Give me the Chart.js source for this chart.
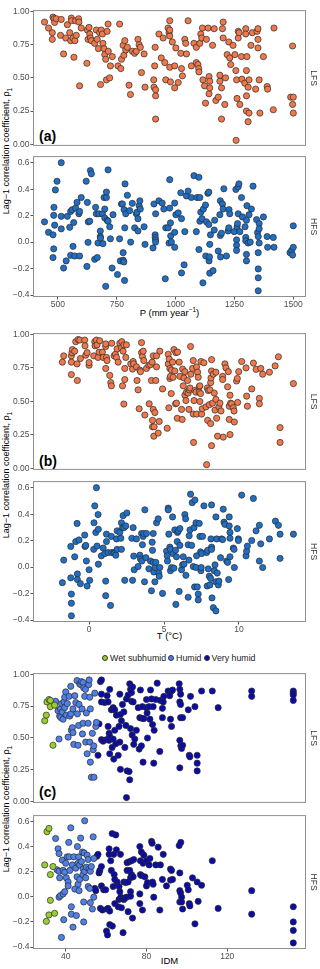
<!DOCTYPE html>
<html>
<head>
<meta charset="utf-8">
<script src="https://cdn.jsdelivr.net/npm/chart.js@4.4.1/dist/chart.umd.min.js"></script>
<style>
    body { margin: 0; background: #fff; width: 320px; height: 969px; position: relative; overflow: hidden;
           font-family: "Liberation Sans", Arial, sans-serif; }
    canvas { position: absolute; left: 0; }
    .ytitle { position: absolute; left: 8px; width: 300px; text-align: center; font-size: 9px; line-height: 10px;
              color: #000; white-space: nowrap; transform: translate(-50%, -50%) rotate(-90deg); }
    .xtitle { position: absolute; left: 33px; width: 273px; text-align: center; font-size: 9.5px; color: #000; }
    .xtitle sup { font-size: 6.5px; }
    .tag { position: absolute; left: 39px; font-weight: bold; font-size: 14px; color: #000; }
    .legend { position: absolute; top: 653px; left: 100px; font-size: 8.8px; color: #1a1a1a; white-space: nowrap; }
    .legend i { display: inline-block; width: 4px; height: 4px; border-radius: 50%; border: 0.6px solid #333;
                margin: 0 2px 1px 2px; vertical-align: middle; }
</style>
</head>
<body>

<div class="ytitle" style="top:151px">Lag−1 correlation coefficient, ρ<sub style="font-size:6.5px">1</sub></div>
<div class="ytitle" style="top:475px">Lag−1 correlation coefficient, ρ<sub style="font-size:6.5px">1</sub></div>
<div class="ytitle" style="top:809px">Lag−1 correlation coefficient, ρ<sub style="font-size:6.5px">1</sub></div>

<div class="xtitle" style="top:306px">P (mm year<sup>−1</sup>)</div>
<div class="xtitle" style="top:630px">T (°C)</div>
<div class="xtitle" style="top:955px">IDM</div>

<div class="tag" style="top:128px">(a)</div>
<div class="tag" style="top:453px">(b)</div>
<div class="tag" style="top:784px">(c)</div>

<div class="legend"><i style="background:#9acd32"></i>Wet subhumid<i style="background:#4f7fe8"></i>Humid<i style="background:#0b0ba6"></i>Very humid</div>

<canvas id="aL"></canvas>
<canvas id="aH"></canvas>
<canvas id="bL"></canvas>
<canvas id="bH"></canvas>
<canvas id="cL"></canvas>
<canvas id="cH"></canvas>

<script>
// tick values
const lfsTicks = [0, 0.25, 0.5, 0.75, 1];
const hfsTicks = [-0.4, -0.2, 0, 0.2, 0.4, 0.6];
const pTicks = [500, 750, 1000, 1250, 1500];
const tTicks = [0, 5, 10];
const idmTicks = [40, 80, 120];

// (a) precipitation vs rho1
const aLfs = [[443,0.92],[460,0.875],[476,0.84],[476,0.79],[479,0.957],[483,0.945],[486,0.917],[493,0.945],[514,0.94],[511,0.82],[524,0.68],[533,0.80],[540,0.90],[550,0.84],[554,0.78],[557,0.95],[558,0.93],[564,0.80],[568,0.655],[572,0.78],[575,0.93],[578,0.82],[588,0.945],[589,0.92],[592,0.44],[599,0.875],[623,0.61],[625,0.86],[628,0.79],[632,0.88],[635,0.83],[638,0.80],[642,0.78],[656,0.76],[663,0.86],[667,0.79],[672,0.72],[677,0.84],[681,0.45],[684,0.86],[689,0.83],[691,0.76],[696,0.72],[699,0.675],[703,0.64],[706,0.485],[709,0.85],[713,0.905],[714,0.70],[720,0.50],[723,0.59],[731,0.66],[755,0.59],[762,0.905],[767,0.57],[770,0.64],[777,0.745],[780,0.67],[784,0.78],[788,0.71],[795,0.73],[802,0.445],[808,0.375],[816,0.70],[826,0.685],[833,0.70],[840,0.79],[845,0.75],[850,0.73],[855,0.54],[866,0.68],[870,0.43],[907,0.485],[908,0.43],[911,0.59],[913,0.73],[915,0.365],[915,0.41],[915,0.19],[929,0.83],[939,0.65],[947,0.80],[954,0.615],[958,0.485],[968,0.875],[972,0.84],[975,0.815],[975,0.93],[975,0.86],[975,0.58],[978,0.47],[986,0.77],[996,0.425],[996,0.59],[1001,0.725],[1011,0.465],[1022,0.685],[1025,0.57],[1029,0.515],[1039,0.79],[1043,0.76],[1046,0.68],[1053,0.93],[1067,0.59],[1078,0.76],[1088,0.73],[1088,0.615],[1095,0.60],[1098,0.57],[1099,0.545],[1103,0.76],[1107,0.83],[1111,0.80],[1114,0.875],[1116,0.485],[1123,0.44],[1127,0.31],[1131,0.79],[1138,0.875],[1142,0.51],[1142,0.38],[1145,0.425],[1145,0.475],[1157,0.745],[1164,0.87],[1171,0.33],[1181,0.355],[1188,0.475],[1188,0.52],[1195,0.425],[1195,0.19],[1199,0.87],[1202,0.80],[1202,0.92],[1209,0.30],[1212,0.50],[1219,0.675],[1226,0.77],[1230,0.65],[1234,0.60],[1244,0.745],[1252,0.675],[1256,0.555],[1257,0.03],[1259,0.485],[1261,0.345],[1266,0.85],[1266,0.80],[1270,0.84],[1273,0.30],[1280,0.66],[1282,0.49],[1294,0.46],[1298,0.87],[1298,0.83],[1301,0.555],[1301,0.365],[1301,0.25],[1303,0.66],[1308,0.17],[1308,0.43],[1312,0.485],[1312,0.235],[1320,0.745],[1326,0.84],[1340,0.415],[1346,0.85],[1350,0.87],[1350,0.79],[1350,0.725],[1355,0.485],[1358,0.235],[1373,0.66],[1389,0.435],[1391,0.415],[1415,0.26],[1418,0.875],[1489,0.355],[1497,0.74],[1497,0.30],[1500,0.355],[1500,0.235]];

const aHfs = [[443,0.153],[460,0.074],[479,0.055],[479,-0.117],[482,0.202],[482,-0.051],[483,0.263],[486,0.128],[489,0.394],[496,0.46],[514,0.6],[514,0.195],[514,0.1],[524,-0.196],[535,-0.142],[540,0.195],[550,0.112],[554,0.232],[554,-0.1],[561,0.245],[564,-0.032],[567,0.148],[571,-0.105],[575,0.257],[581,0.30],[589,0.214],[592,0.232],[592,-0.105],[599,0.337],[620,0.46],[623,-0.184],[625,0.30],[628,-0.002],[629,0.153],[635,0.158],[638,0.541],[642,0.516],[656,-0.13],[660,0.263],[663,0.214],[667,-0.117],[670,-0.007],[674,0.214],[680,0.084],[680,0.042],[681,0.03],[689,0.214],[691,-0.012],[696,0.337],[699,0.25],[699,0.182],[703,-0.334],[706,0.337],[706,0.378],[709,0.165],[713,0.158],[713,0.546],[720,0.116],[723,0.025],[730,-0.196],[734,0.207],[753,-0.245],[762,0.025],[765,-0.142],[770,0.288],[774,0.288],[777,-0.08],[777,-0.137],[780,-0.15],[781,0.245],[783,-0.29],[784,0.108],[785,0.44],[788,0.214],[795,0.354],[805,0.238],[809,0],[816,0.293],[826,0.108],[833,0.214],[836,0.226],[840,0.084],[840,0.177],[845,0.275],[848,0.312],[850,0.25],[866,0.116],[870,-0.017],[904,-0.044],[908,0.288],[913,0.055],[913,0.035],[915,0.017],[915,0],[915,0.214],[929,0.312],[943,0.295],[950,0.25],[956,-0.277],[958,0.108],[968,0.108],[972,-0.007],[975,0.472],[975,0.257],[978,0.145],[979,0.047],[982,0],[996,0.295],[996,0.074],[996,-0.039],[1001,0.207],[1011,0.221],[1022,0.373],[1025,0.177],[1025,-0.233],[1036,-0.172],[1039,0.079],[1046,0.349],[1053,0.386],[1067,0.337],[1078,0.502],[1088,0.079],[1091,0.337],[1099,0.49],[1099,-0.056],[1103,0.337],[1103,0.158],[1107,0.226],[1112,0.177],[1116,-0.308],[1118,0.25],[1127,0.28],[1128,-0.105],[1131,0.153],[1137,0.369],[1141,0.378],[1141,0.133],[1142,-0.142],[1144,-0.112],[1145,-0.017],[1145,-0.235],[1148,0.055],[1159,-0.216],[1164,0.091],[1166,0.165],[1181,-0.068],[1188,0.207],[1190,0.312],[1190,0.05],[1191,-0.112],[1195,0.067],[1199,0.288],[1202,0.25],[1205,0.403],[1216,-0.105],[1223,0.084],[1226,0.108],[1227,0.245],[1230,0.214],[1249,0.079],[1256,0.398],[1259,0.017],[1259,-0.024],[1259,-0.063],[1261,0.116],[1263,0.14],[1266,0.214],[1266,0.418],[1269,0.44],[1273,0.079],[1280,0.337],[1284,0.19],[1295,0.116],[1298,0.035],[1298,0.01],[1301,-0.093],[1301,-0.142],[1301,0.165],[1303,0.275],[1308,-0.007],[1312,0.207],[1317,0],[1322,0.25],[1329,0.423],[1344,0.17],[1348,0.072],[1351,0.042],[1351,-0.08],[1351,-0.203],[1351,-0.27],[1351,-0.368],[1355,0.14],[1355,0.1],[1355,-0.007],[1373,0.19],[1389,0.042],[1391,-0.039],[1415,0.035],[1418,-0.039],[1486,-0.08],[1493,-0.063],[1497,-0.098],[1500,-0.039],[1500,0.123]];

// (b) temperature vs rho1
const bLfs = [[-1.78,0.793],[-1.69,0.84],[-1.18,0.70],[-1.18,0.793],[-1.18,0.84],[-1.14,0.864],[-1.11,0.887],[-0.96,0.875],[-0.89,0.946],[-0.80,0.78],[-0.78,0.656],[-0.73,0.962],[-0.62,0.958],[-0.58,0.82],[-0.29,0.958],[-0.27,0.915],[-0.22,0.845],[-0.13,0.864],[0,0.77],[0,0.79],[0.31,0.84],[0.38,0.946],[0.40,0.915],[0.49,0.958],[0.53,0.922],[0.60,0.828],[0.67,0.868],[0.71,0.953],[0.89,0.868],[0.94,0.828],[1.11,0.91],[1.11,0.929],[1.16,0.828],[1.20,0.805],[1.11,0.746],[1.38,0.694],[1.45,0.64],[1.49,0.616],[1.51,0.934],[1.67,0.84],[1.76,0.852],[1.83,0.828],[1.87,0.892],[1.94,0.793],[2.05,0.934],[2.16,0.899],[2.18,0.946],[2.23,0.616],[2.27,0.875],[2.32,0.922],[2.32,0.48],[2.38,0.746],[2.38,0.663],[2.45,0.828],[2.49,0.922],[2.78,0.78],[2.90,0.741],[2.94,0.798],[2.97,0.78],[3.16,0.758],[3.20,0.656],[3.27,0.586],[3.34,0.445],[3.39,0.734],[3.43,0.722],[3.50,0.939],[3.50,0.864],[3.56,0.835],[3.61,0.875],[3.65,0.805],[3.72,0.398],[3.83,0.746],[3.99,0.77],[4.01,0.482],[4.10,0.774],[4.16,0.656],[4.21,0.793],[4.23,0.358],[4.23,0.31],[4.28,0.44],[4.28,0.84],[4.32,0.24],[4.34,0.31],[4.39,0.416],[4.45,0.656],[4.50,0.84],[4.50,0.758],[4.61,0.263],[4.68,0.35],[4.72,0.875],[4.90,0.593],[5.21,0.299],[5.28,0.78],[5.28,0.852],[5.32,0.452],[5.35,0.816],[5.39,0.746],[5.39,0.671],[5.43,0.687],[5.48,0.558],[5.50,0.734],[5.57,0.793],[5.61,0.68],[5.66,0.887],[5.72,0.727],[5.77,0.482],[5.79,0.864],[5.90,0.868],[5.83,0.487],[5.88,0.374],[6.01,0.793],[6.06,0.687],[6.17,0.44],[6.21,0.365],[6.24,0.741],[6.28,0.616],[6.33,0.675],[6.39,0.722],[6.39,0.546],[6.46,0.506],[6.50,0.569],[6.57,0.656],[6.61,0.562],[6.66,0.44],[6.68,0.586],[6.73,0.60],[6.77,0.91],[6.79,0.703],[6.90,0.746],[6.95,0.805],[6.95,0.405],[6.97,0.193],[7.00,0.506],[7.06,0.581],[7.13,0.569],[7.17,0.405],[7.17,0.758],[7.24,0.718],[7.28,0.68],[7.35,0.609],[7.35,0.569],[7.39,0.616],[7.39,0.499],[7.44,0.558],[7.46,0.798],[7.51,0.405],[7.55,0.445],[7.66,0.788],[7.80,0.459],[7.84,0.027],[7.88,0.60],[7.91,0.358],[7.95,0.581],[8.02,0.475],[8.06,0.586],[8.11,0.334],[8.11,0.64],[8.13,0.675],[8.17,0.727],[8.17,0.812],[8.17,0.169],[8.24,0.487],[8.29,0.703],[8.35,0.562],[8.40,0.435],[8.46,0.718],[8.46,0.515],[8.51,0.374],[8.57,0.24],[8.66,0.459],[8.73,0.487],[8.80,0.428],[8.91,0.687],[8.91,0.663],[8.95,0.233],[9.06,0.78],[9.13,0.75],[9.24,0.609],[9.29,0.722],[9.35,0.464],[9.35,0.365],[9.40,0.252],[9.40,0.546],[9.44,0.487],[9.51,0.482],[9.62,0.452],[9.67,0.428],[9.69,0.346],[9.84,0.652],[9.89,0.671],[9.91,0.492],[9.98,0.722],[10.18,0.798],[10.47,0.75],[10.51,0.539],[10.56,0.464],[10.85,0.593],[10.96,0.786],[11.14,0.739],[11.36,0.522],[11.36,0.482],[11.45,0.746],[11.58,0.703],[12.03,0.718],[12.41,0.765],[12.63,0.833],[12.74,0.304],[12.74,0.193],[13.63,0.633]];

const bHfs = [[-1.78,-0.118],[-1.69,0.053],[-1.22,0.156],[-1.22,-0.081],[-1.18,-0.204],[-1.18,-0.273],[-1.18,-0.368],[-0.96,0.078],[-0.89,0.193],[-0.80,0.33],[-0.78,-0.052],[-0.78,-0.094],[-0.67,0.205],[-0.58,-0.125],[-0.29,0.242],[-0.27,0.156],[-0.22,0.164],[-0.18,0.046],[-0.13,-0.143],[0,-0.02],[0.04,-0.10],[0.31,0.134],[0.33,0.335],[0.38,0.463],[0.45,0.262],[0.49,0.60],[0.53,0.159],[0.60,0.397],[0.62,0.286],[0.62,0.022],[0.82,0.085],[0.94,0.144],[1.05,0.102],[1.11,-0.106],[1.11,-0.216],[1.16,0.249],[1.16,0.193],[1.27,0.11],[1.43,-0.29],[1.49,0.232],[1.51,0.11],[1.65,0.11],[1.71,0.107],[1.78,0.09],[1.83,0.213],[1.87,0.134],[1.87,0.274],[2.05,0.262],[2.12,0.218],[2.16,0.134],[2.16,0.335],[2.23,0.298],[2.27,0.389],[2.32,0.298],[2.38,-0.10],[2.45,0.311],[2.52,0.409],[2.85,0.218],[2.90,-0.10],[2.94,0.298],[2.98,0.083],[3.01,-0.02],[3.16,0.213],[3.27,0.004],[3.39,0.09],[3.43,0.061],[3.50,0.254],[3.52,0.046],[3.56,0.169],[3.61,0.232],[3.65,0.254],[3.70,-0.111],[3.72,0.433],[3.79,0.071],[3.83,0.254],[3.99,-0.013],[4.10,0.046],[4.16,-0.179],[4.21,0.188],[4.23,0.127],[4.28,0.254],[4.28,0.036],[4.32,-0.037],[4.39,-0.111],[4.41,-0.003],[4.45,0.036],[4.50,0.335],[4.61,0.365],[4.65,-0.045],[4.68,-0.069],[4.72,-0.003],[4.90,-0.199],[5.17,0.12],[5.21,0.085],[5.23,0.046],[5.28,0.446],[5.28,0.433],[5.32,0.249],[5.39,0.151],[5.43,0.134],[5.43,-0.027],[5.50,-0.003],[5.57,0.379],[5.61,0.102],[5.66,-0.008],[5.72,0.281],[5.77,0.127],[5.79,-0.282],[5.83,0.078],[5.88,0.193],[5.90,0.262],[5.95,0.274],[6.01,-0.184],[6.06,0.164],[6.06,0.291],[6.17,-0.02],[6.24,0.017],[6.28,0.078],[6.33,0.022],[6.39,0.397],[6.44,0.365],[6.46,-0.062],[6.61,0.169],[6.61,-0.228],[6.66,0.053],[6.68,0.237],[6.73,0.281],[6.77,0.551],[6.84,0.164],[6.88,0.487],[6.95,0.004],[7.00,0.298],[7.04,-0.15],[7.06,0.507],[7.13,-0.003],[7.13,0.335],[7.17,0.085],[7.22,-0.15],[7.28,-0.204],[7.28,-0.248],[7.35,0.33],[7.39,0.232],[7.44,0.115],[7.46,-0.027],[7.48,-0.003],[7.51,0.102],[7.57,0.232],[7.66,0.463],[7.84,0.11],[7.88,-0.143],[7.91,0.127],[7.95,-0.013],[8.02,-0.069],[8.06,-0.135],[8.11,-0.086],[8.13,0.213],[8.17,0.151],[8.17,0.47],[8.17,0.134],[8.20,-0.233],[8.29,-0.307],[8.35,-0.027],[8.40,0.017],[8.46,0.379],[8.46,-0.111],[8.46,-0.331],[8.51,0.213],[8.55,-0.045],[8.62,-0.135],[8.66,-0.106],[8.77,0.071],[8.84,0.213],[8.91,0.208],[8.95,0.438],[9.00,0.34],[9.06,0.323],[9.18,0.046],[9.24,0.036],[9.31,-0.094],[9.35,0.379],[9.35,0.311],[9.40,0.262],[9.40,0.218],[9.40,0.078],[9.62,0.144],[9.67,0.134],[9.69,-0.003],[9.89,0.291],[9.96,0.213],[9.96,0.201],[10.18,0.544],[10.47,0.085],[10.51,0.12],[10.56,0.159],[10.85,0.201],[10.96,0.519],[11.14,0.274],[11.36,0.316],[11.36,0.046],[11.45,0.176],[11.58,-0.003],[12.03,0.213],[12.43,0.347],[12.63,0.316],[12.74,0.249],[12.74,0.066],[13.63,0.249]];

// (c) aridity index (IDM) vs rho1, split by climate class
const cLfsWet = [[29.6,0.635],[30.4,0.679],[30.7,0.783],[31.7,0.802],[32.4,0.795],[32.4,0.746],[33.7,0.442],[34.5,0.758]];
const cLfsHumid = [[35.0,0.788],[36.2,0.714],[36.7,0.491],[37.0,0.672],[37.4,0.728],[37.5,0.66],[37.9,0.77],[38.3,0.704],[38.7,0.647],[39.2,0.783],[39.5,0.82],[39.5,0.738],[40.0,0.862],[40.3,0.679],[40.8,0.77],[41.2,0.506],[41.7,0.827],[42.0,0.672],[42.5,0.906],[42.5,0.689],[42.8,0.56],[43.3,0.58],[43.6,0.541],[43.6,0.728],[44.0,0.449],[44.5,0.832],[45.0,0.778],[45.6,0.951],[45.8,0.689],[46.1,0.442],[46.4,0.598],[46.6,0.763],[46.9,0.926],[47.4,0.919],[47.8,0.943],[48.1,0.728],[48.3,0.531],[48.6,0.615],[48.6,0.936],[48.9,0.894],[49.4,0.827],[49.8,0.882],[49.9,0.467],[50.2,0.696],[50.6,0.375],[51.1,0.615],[51.4,0.919],[51.6,0.956],[51.9,0.82],[51.9,0.467],[52.2,0.728],[52.2,0.309],[52.7,0.19],[53.2,0.536],[53.6,0.407],[53.9,0.437],[54.0,0.19],[54.4,0.852],[54.9,0.59],[55.2,0.622]];
const cLfsVery = [[56.0,0.363],[56.5,0.61],[57.2,0.943],[57.7,0.956],[57.7,0.844],[57.7,0.783],[57.7,0.486],[58.5,0.474],[59.3,0.778],[60.2,0.486],[60.5,0.832],[61.0,0.783],[61.0,0.59],[61.5,0.536],[61.5,0.481],[61.8,0.882],[61.8,0.375],[61.8,0.511],[62.6,0.721],[63.0,0.425],[63.5,0.738],[63.5,0.491],[63.8,0.333],[64.3,0.56],[64.3,0.721],[64.8,0.454],[65.1,0.679],[66.0,0.363],[66.4,0.59],[66.8,0.844],[66.8,0.467],[67.1,0.684],[67.1,0.252],[67.6,0.635],[68.1,0.763],[68.8,0.704],[69.3,0.425],[69.8,0.598],[70.1,0.807],[70.1,0.03],[70.4,0.24],[70.9,0.837],[71.4,0.235],[71.7,0.926],[71.7,0.17],[72.1,0.882],[72.1,0.573],[72.6,0.788],[72.6,0.857],[72.9,0.523],[73.1,0.901],[73.4,0.783],[73.7,0.449],[74.2,0.491],[75.0,0.56],[75.9,0.738],[76.4,0.412],[76.7,0.659],[77.0,0.877],[77.5,0.437],[77.7,0.654],[78.0,0.746],[78.3,0.309],[78.7,0.652],[80.0,0.802],[80.0,0.738],[80.3,0.696],[80.5,0.499],[81.3,0.746],[81.7,0.647],[82.0,0.877],[82.5,0.807],[83.0,0.605],[83.3,0.746],[83.6,0.301],[83.8,0.56],[84.6,0.802],[85.3,0.931],[86.6,0.393],[86.9,0.795],[87.9,0.733],[87.9,0.659],[88.3,0.783],[88.6,0.827],[90.7,0.869],[91.5,0.832],[91.9,0.647],[92.4,0.59],[92.4,0.869],[92.9,0.877],[96.2,0.926],[96.5,0.882],[96.5,0.783],[96.5,0.481],[96.5,0.264],[96.9,0.844],[96.9,0.763],[96.9,0.659],[97.0,0.437],[97.4,0.417],[97.9,0.442],[97.9,0.659],[100.7,0.721],[101.2,0.363],[101.5,0.351],[101.8,0.827],[104.0,0.746],[105.1,0.363],[105.1,0.301],[105.1,0.24],[107.3,0.869],[112.6,0.869],[115.5,0.738],[132.1,0.869],[132.1,0.827],[152.7,0.869],[152.7,0.852],[152.7,0.837],[152.7,0.795]];

const cHfsWet = [[29.6,0.254],[30.7,0.518],[31.7,0.544],[32.4,0.177],[32.4,-0.028],[31.7,-0.144],[30.4,-0.195],[33.7,0.241],[34.5,-0.131]];
const cHfsHumid = [[35.0,0.464],[36.2,0.382],[36.7,0.344],[35.7,0.215],[36.7,0.203],[37.0,0.151],[36.7,-0.003],[37.4,0.01],[37.9,-0.323],[38.3,0.292],[38.7,0.21],[38.7,0.023],[39.0,-0.182],[39.5,0.195],[39.5,0.041],[40.0,0.267],[40.3,0.151],[40.7,0.318],[41.2,0.118],[41.2,0.087],[41.5,0.433],[41.7,0.318],[42.0,0.21],[42.5,0.549],[42.8,-0.079],[42.8,-0.138],[43.3,0.254],[43.6,-0.241],[44.0,0.318],[44.5,0.062],[45.0,0.228],[45.3,-0.149],[45.6,0.159],[45.8,0.4],[46.1,0.1],[46.1,0.267],[46.4,0.318],[46.6,0.049],[46.9,0.138],[46.9,0.254],[47.4,0.467],[47.8,0.28],[48.3,0.356],[48.6,0.221],[48.6,0.177],[48.9,-0.041],[48.9,-0.2],[49.1,0.349],[49.4,0.605],[49.4,0.203],[49.9,0.151],[50.2,0.236],[50.6,0.331],[51.1,0.297],[51.1,0.082],[51.6,0.221],[51.9,0.067],[52.2,0.203],[52.2,-0.046],[52.7,0.241],[53.2,-0.097],[53.6,0.477],[53.9,0.305],[53.9,-0.003]];
const cHfsVery = [[54.4,0.067],[54.9,0.049],[55.5,0.323],[56.0,0.338],[56.5,0.19],[56.9,0.21],[57.2,-0.092],[57.7,0.087],[57.7,0.241],[58.2,-0.105],[58.8,0.056],[59.8,0.056],[60.2,-0.272],[60.5,-0.097],[60.7,-0.303],[61.0,-0.092],[61.5,0.382],[61.5,0.338],[61.8,-0.113],[61.8,-0.221],[62.3,0.287],[62.6,0.21],[63.0,0.503],[63.1,-0.233],[63.5,0.082],[63.8,0.338],[64.0,0.177],[64.3,0.138],[64.3,-0.054],[64.8,0.492],[65.1,0.374],[65.5,0.118],[66.0,-0.079],[66.4,0.082],[66.4,-0.021],[66.8,0.041],[67.1,0.338],[67.3,-0.003],[67.6,-0.087],[68.1,-0.015],[68.4,-0.285],[68.8,-0.021],[68.8,0.118],[69.3,-0.01],[69.8,0.113],[70.1,-0.003],[70.4,0.21],[70.4,0.272],[70.9,-0.118],[70.9,0.118],[71.4,0.279],[71.7,0.21],[72.1,0.041],[72.1,0.005],[72.1,0.151],[72.6,0.287],[72.6,0.177],[73.1,-0.169],[73.4,0.159],[73.7,0.297],[76.7,-0.054],[76.7,0.023],[76.7,0.4],[77.0,0.287],[77.0,0.177],[77.5,0.356],[77.5,0.169],[78.0,-0.105],[78.3,0.267],[78.7,0.331],[79.2,0.159],[80.0,0.287],[80.0,0.087],[80.5,0.113],[81.3,0.254],[81.7,0.305],[82.5,0.441],[82.8,0.426],[83.0,0.118],[83.3,0.1],[83.6,-0.003],[84.6,0.254],[85.8,0.395],[86.6,-0.105],[86.9,0.254],[87.9,0.138],[88.3,0.338],[89.9,0.087],[91.9,0.221],[91.9,0.133],[92.4,0.21],[92.9,0.138],[96.2,0.408],[96.5,0.19],[96.5,0.049],[96.5,-0.041],[96.9,0.031],[97.0,0.433],[97.4,-0.003],[97.4,-0.041],[97.9,-0.097],[100.2,0.092],[100.7,0.056],[101.2,-0.054],[101.5,-0.072],[102.8,0.151],[104.0,-0.215],[105.1,0.118],[105.6,-0.036],[107.3,0.092],[112.6,0.287],[115.5,-0.092],[132.1,0.049],[132.1,-0.138],[152.7,-0.079],[152.7,-0.2],[152.7,-0.267],[152.7,-0.367]];

const ORANGE = '#f0784a';
const BLUE = '#1f6fc6';
const WET = '#9acd32';
const HUMID = '#4f7fe8';
const VERY = '#0b0ba6';

const toXY = (pairs) => pairs.map(([x, y]) => ({ x, y }));

const framePlugin = {
    id: 'frame',
    afterDraw(chart, args, opts) {
        const { ctx, chartArea: a } = chart;
        ctx.save();
        ctx.strokeStyle = '#8f8f8f';
        ctx.lineWidth = 1;
        ctx.strokeRect(a.left + 0.5, a.top + 0.5, a.right - a.left - 1, a.bottom - a.top - 1);
        ctx.translate(a.right + 7, (a.top + a.bottom) / 2);
        ctx.rotate(Math.PI / 2);
        ctx.fillStyle = '#333';
        ctx.font = '8.5px "Liberation Sans", Arial, sans-serif';
        ctx.textAlign = 'center';
        ctx.textBaseline = 'middle';
        ctx.fillText(opts.strip, 0, 0);
        ctx.restore();
    },
};

function fmt(v, dec) {
    const s = Math.abs(v).toFixed(dec);
    return v < -1e-9 ? '−' + s : s;
}

function makePanel(p) {
    const canvas = document.getElementById(p.id);
    const axisH = p.showX ? 12 : 0;
    const h = 2 + (p.bottom - p.top) + (p.showX ? axisH : 2);
    canvas.style.top = (p.top - 2) + 'px';
    canvas.style.width = '320px';
    canvas.style.height = h + 'px';
    canvas.width = 320;
    canvas.height = h;

    const tickFont = { family: '"Liberation Sans", Arial, sans-serif', size: 8.5 };

    return new Chart(canvas, {
        type: 'scatter',
        data: {
            datasets: p.sets.map((s) => ({
                data: toXY(s.pts),
                backgroundColor: s.color,
                borderColor: '#2b2b2b',
                borderWidth: 0.7,
                pointRadius: 3.1,
            })),
        },
        options: {
            responsive: false,
            animation: false,
            devicePixelRatio: 1,
            layout: { padding: { top: 2, right: 14, bottom: p.showX ? 0 : 2, left: 0 } },
            plugins: {
                legend: { display: false },
                tooltip: { enabled: false },
                frame: { strip: p.strip },
            },
            scales: {
                x: {
                    type: 'linear',
                    min: p.xRange[0],
                    max: p.xRange[1],
                    display: p.showX,
                    afterBuildTicks: (s) => { s.ticks = p.xTicks.map((v) => ({ value: v })); },
                    afterFit: (s) => { s.height = axisH; },
                    grid: { drawOnChartArea: false, drawTicks: true, tickLength: 2.5, color: '#555' },
                    border: { display: false },
                    ticks: {
                        autoSkip: false,
                        maxRotation: 0,
                        padding: 0,
                        color: '#4d4d4d',
                        font: tickFont,
                        callback: (v) => String(v),
                    },
                },
                y: {
                    type: 'linear',
                    min: p.yRange[0],
                    max: p.yRange[1],
                    afterBuildTicks: (s) => { s.ticks = p.yTicks.map((v) => ({ value: v })); },
                    afterFit: (s) => { s.width = 33; },
                    grid: { drawOnChartArea: false, drawTicks: true, tickLength: 2.5, color: '#555' },
                    border: { display: false },
                    ticks: {
                        autoSkip: false,
                        padding: 1,
                        color: '#4d4d4d',
                        font: tickFont,
                        callback: (v) => fmt(v, p.dec),
                    },
                },
            },
        },
        plugins: [framePlugin],
    });
}

const lfsRange = [-0.012, 1.01];
const hfsRange = [-0.415, 0.65];

makePanel({ id: 'aL', top: 6, bottom: 150, sets: [{ pts: aLfs, color: ORANGE }], xRange: [394, 1554], xTicks: pTicks,
    yRange: lfsRange, yTicks: lfsTicks, dec: 2, strip: 'LFS', showX: false });
makePanel({ id: 'aH', top: 152, bottom: 297, sets: [{ pts: aHfs, color: BLUE }], xRange: [394, 1554], xTicks: pTicks,
    yRange: hfsRange, yTicks: hfsTicks, dec: 1, strip: 'HFS', showX: true });
makePanel({ id: 'bL', top: 329, bottom: 474, sets: [{ pts: bLfs, color: ORANGE }], xRange: [-3.74, 14.47], xTicks: tTicks,
    yRange: lfsRange, yTicks: lfsTicks, dec: 2, strip: 'LFS', showX: false });
makePanel({ id: 'bH', top: 477, bottom: 622, sets: [{ pts: bHfs, color: BLUE }], xRange: [-3.74, 14.47], xTicks: tTicks,
    yRange: hfsRange, yTicks: hfsTicks, dec: 1, strip: 'HFS', showX: true });
makePanel({ id: 'cL', top: 669, bottom: 807,
    sets: [{ pts: cLfsWet, color: WET }, { pts: cLfsHumid, color: HUMID }, { pts: cLfsVery, color: VERY }],
    xRange: [23.8, 159], xTicks: idmTicks, yRange: lfsRange, yTicks: lfsTicks, dec: 2, strip: 'LFS', showX: false });
makePanel({ id: 'cH', top: 811, bottom: 949,
    sets: [{ pts: cHfsWet, color: WET }, { pts: cHfsHumid, color: HUMID }, { pts: cHfsVery, color: VERY }],
    xRange: [23.8, 159], xTicks: idmTicks, yRange: hfsRange, yTicks: hfsTicks, dec: 1, strip: 'HFS', showX: true });
</script>
</body>
</html>
